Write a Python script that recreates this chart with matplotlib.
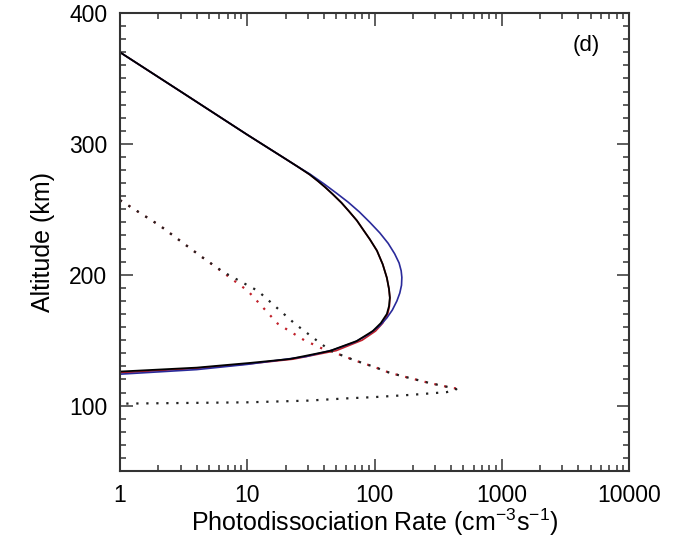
import matplotlib

matplotlib.use("Agg")
import matplotlib.pyplot as plt
from matplotlib.ticker import FixedLocator, LogLocator, NullFormatter

plt.rcParams["font.family"] = ["Liberation Sans", "DejaVu Sans"]
plt.rcParams["mathtext.default"] = "regular"

# solid profiles (rate in cm^-3 s^-1, altitude in km)
black_rate = [1, 3, 10, 20, 25, 31, 36, 40.8, 47, 55, 63, 72.7, 82, 92, 104.5, 116, 125, 130, 132,
              130, 125, 112, 97, 72.7, 44.7, 21.6, 10.5, 4, 1]
black_alt = [370, 340, 307, 288.5, 282.5, 276.5, 271.5, 267, 261.5, 255, 248.5, 241.4, 234, 227,
             218.4, 208, 197.7, 189, 182.4, 176, 170, 163, 157, 149.4, 141.8, 135.6, 132.6, 129, 126]

red_rate = [1, 3, 10, 20, 25, 31, 36, 40.8, 47, 55, 63, 72.7, 82, 92, 104.5, 116, 125, 130, 132,
            131, 127, 116, 102, 80, 50, 23, 10.5, 4, 1]
red_alt = [370, 340, 307, 288.5, 282.5, 276.5, 271.5, 267, 261.5, 255, 248.5, 241.4, 234, 227,
           218.4, 208, 197.7, 189, 182.4, 176, 170, 163, 157, 150, 142, 135.5, 132, 128.5, 125]

blue_rate = [1, 3, 10, 20, 25, 31, 40, 50, 62, 76, 92, 110, 128, 144, 156, 162, 164, 163, 158, 150,
             138, 125, 110, 90, 70, 47, 29, 10, 4, 1]
blue_alt = [370, 340, 307, 288.5, 282.5, 277, 269.5, 262.5, 255.5, 248, 240, 232, 224, 216, 209,
            203, 198, 192, 186, 180, 173, 167, 161, 154.5, 148.5, 142.5, 137.5, 131.5, 127.5, 124]

# dotted profiles
black_dot_rate = [1, 2.06, 4.25, 6.5, 12.1, 23.7, 36, 45, 60, 72.7, 100, 132, 190, 272, 413, 440,
                  370, 200, 100, 60, 30, 10, 1.05]
black_dot_alt = [257, 237.5, 214.6, 202, 187.7, 162.5, 149, 142, 137, 134, 129.5, 125, 121, 117.2,
                 113.4, 112.5, 110.3, 108.3, 106.5, 105.5, 103.8, 102.5, 101.5]

red_dot_rate = [1, 2.06, 4.25, 6.2, 10.1, 17.4, 28, 38, 50, 60, 72.7, 100, 132, 190, 272, 413, 450]
red_dot_alt = [257, 237.5, 214.6, 203, 187.7, 162.5, 150, 144, 140, 137, 134, 129.5, 125, 121,
               117.2, 113.4, 113]

x_ticks = [1, 10, 100, 1000, 10000]
x_ticklabels = ["1", "10", "100", "1000", "10000"]
y_ticks = [100, 200, 300, 400]

fig = plt.figure(figsize=(6.92, 5.38), dpi=100)
ax = fig.add_axes([0.1734, 0.1245, 0.7356, 0.8513])

dot = (0, (1, 3.5))
ax.plot(red_rate, red_alt, color="#c0202a", lw=1.2)
ax.plot(blue_rate, blue_alt, color="#2a2a9a", lw=1.2)
ax.plot(red_dot_rate, red_dot_alt, color="#c0202a", lw=1.6, ls=dot)
ax.plot(black_dot_rate, black_dot_alt, color="#222222", lw=1.6, ls=dot)
ax.plot(black_rate, black_alt, color="black", lw=1.3)

ax.set_xscale("log")
ax.set_xlim(1, 10000)
ax.set_ylim(50, 400)
ax.xaxis.set_major_locator(FixedLocator(x_ticks))
ax.set_xticklabels(x_ticklabels)
ax.xaxis.set_minor_locator(LogLocator(base=10, subs=range(2, 10), numticks=20))
ax.xaxis.set_minor_formatter(NullFormatter())
ax.set_yticks(y_ticks)
ax.yaxis.set_minor_locator(FixedLocator(range(50, 401, 10)))

ax.tick_params(which="both", direction="in", top=True, right=True, color="#333333")
ax.tick_params(which="major", length=9, width=1.1, labelsize=16.5, pad=9)
ax.tick_params(which="minor", length=4.5, width=1.1)
for sp in ax.spines.values():
    sp.set_linewidth(1.5)
    sp.set_color("#333333")

ax.set_ylabel("Altitude (km)", fontsize=18, labelpad=10)
ax.set_xlabel("Photodissociation Rate (cm$^{-3}$s$^{-1}$)", fontsize=18, labelpad=0)
ax.text(0.943, 0.93, "(d)", transform=ax.transAxes, ha="right", va="center", fontsize=16)

fig.savefig("out.png", dpi=100)
